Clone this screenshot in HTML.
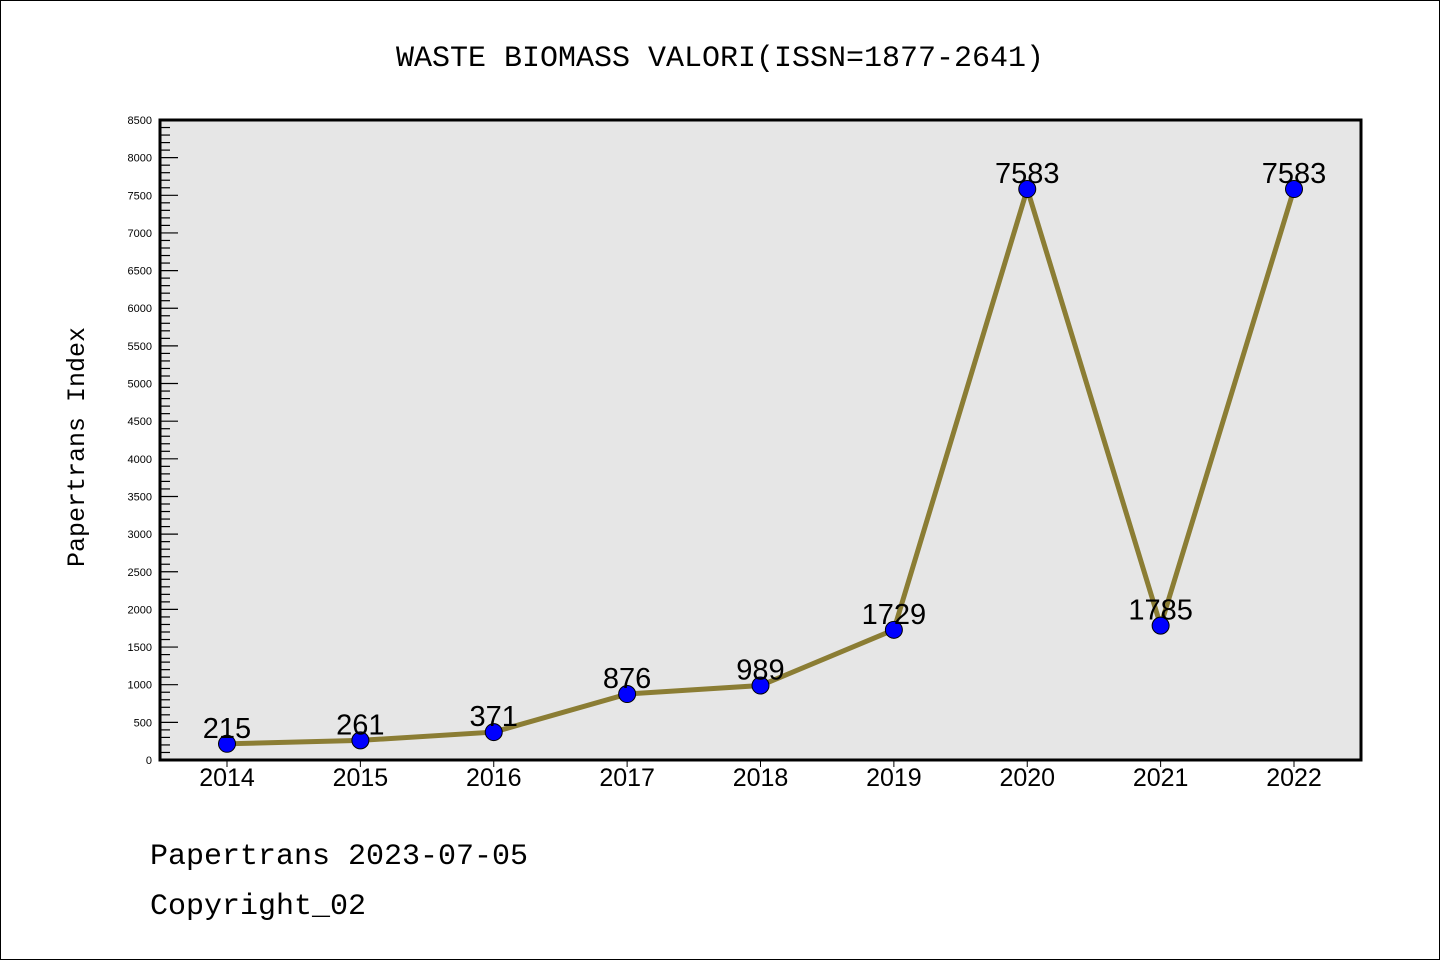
<!DOCTYPE html>
<html><head><meta charset="utf-8"><style>
body{margin:0;background:#fff}
svg{display:block;font-family:"Liberation Sans","DejaVu Sans",sans-serif}
.mono{font-family:"Liberation Mono","DejaVu Sans Mono",monospace}
</style></head><body>
<svg id="chart" width="1440" height="960">
<rect x="0.5" y="0.5" width="1439" height="959" fill="#fff" stroke="#000"/>
<text x="720" y="66" text-anchor="middle" font-size="30" class="mono">WASTE BIOMASS VALORI(ISSN=1877-2641)</text>
<rect x="160" y="120" width="1201" height="640" fill="#e6e6e6"/>
<g id="yaxis"></g>
<g id="xaxis"></g>
<g id="series"></g>
<rect x="160" y="120" width="1201" height="640" fill="none" stroke="#000" stroke-width="3"/>
<text transform="translate(84,447) rotate(-90)" text-anchor="middle" font-size="25" class="mono">Papertrans Index</text>
<text x="150" y="864" font-size="30" class="mono">Papertrans 2023-07-05</text>
<text x="150" y="914" font-size="30" class="mono">Copyright_02</text>
</svg>
<script>
const years=["2014","2015","2016","2017","2018","2019","2020","2021","2022"];
const values=[215,261,371,876,989,1729,7583,1785,7583];
const yMax=8500;
const NS="http://www.w3.org/2000/svg";
const L=160,R=1361,T=120,B=760;
const xS=i=>227+i*(1294-227)/(years.length-1);
const yS=v=>B-v/yMax*(B-T);
function mk(t,a,p){const e=document.createElementNS(NS,t);for(const k in a)e.setAttribute(k,a[k]);p.appendChild(e);return e;}
const ya=document.getElementById('yaxis');
for(let v=0;v<=yMax;v+=100){
 const major=v%500===0;
 const t=mk('line',{x1:L,x2:L+(major?18:10),y1:yS(v),y2:yS(v),stroke:'#000','stroke-width':1.2},ya);
 
 
 if(major){const tx=mk('text',{x:152,y:yS(v)+4,'text-anchor':'end','font-size':11},ya);tx.textContent=v;
 
 }
}
const xa=document.getElementById('xaxis');
years.forEach((y,i)=>{
 const t=mk('line',{x1:xS(i),x2:xS(i),y1:B,y2:B+7,stroke:'#000','stroke-width':1},xa);
 
 
 const tx=mk('text',{x:xS(i),y:786,'text-anchor':'middle','font-size':25},xa);tx.textContent=y;
 
 
});
const s=document.getElementById('series');
const line=mk('polyline',{points:values.map((v,i)=>xS(i)+','+yS(v)).join(' '),fill:'none',stroke:'#8b7d34','stroke-width':5},s);


values.forEach((v,i)=>{
 const c=mk('circle',{cx:xS(i),cy:yS(v),r:8.5,fill:'#0000ff',stroke:'#000','stroke-width':1},s);
 
 
 const tx=mk('text',{x:xS(i),y:yS(v)-6,'text-anchor':'middle','font-size':29},s);tx.textContent=v;
 
 
});
</script>
</body></html>
